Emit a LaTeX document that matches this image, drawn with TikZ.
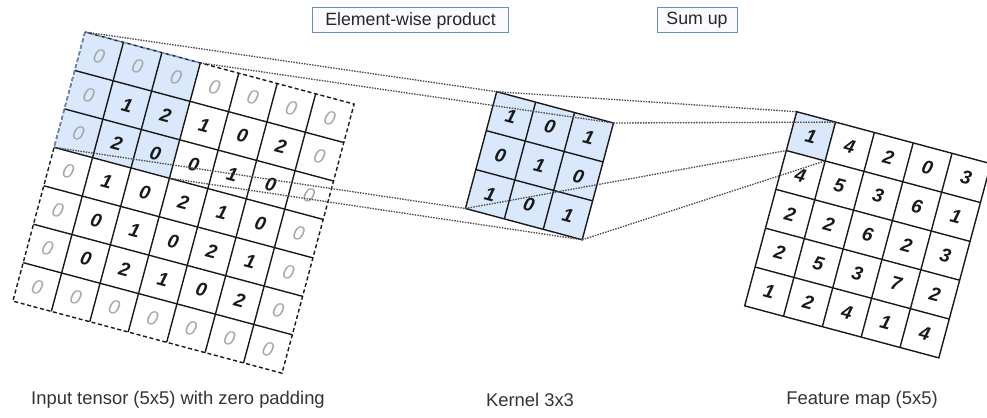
\documentclass[tikz,border=0pt]{standalone}
\usepackage{fontspec}
\setmainfont{Liberation Sans}
\definecolor{cellblue}{HTML}{DAE8FC}
\definecolor{edgeblue}{HTML}{6C8EBF}
\definecolor{padgray}{HTML}{A8A8A8}
\definecolor{labelgray}{HTML}{333333}

\begin{document}
\begin{tikzpicture}[x=0.75pt,y=0.75pt,
  gridline/.style={line width=1.05pt, black!90},
  padborder/.style={line width=1.05pt, black!90, dash pattern=on 3pt off 2pt},
  guide/.style={line width=1pt, black!70, dash pattern=on 1.1pt off 0.9pt},
  valnum/.style={font=\fontsize{14.3}{15}\selectfont\bfseries\itshape, text=black!90, transform shape, inner sep=0pt},
  padnum/.style={font=\fontsize{15}{16}\selectfont\itshape, text=padgray, transform shape, inner sep=0pt},
  tagbox/.style={draw=edgeblue, fill=blue!2, line width=0.75pt, font=\fontsize{13.3}{14}\selectfont, text=black!85, minimum height=18.75pt, inner sep=0pt},
  caption/.style={font=\fontsize{13.8}{15}\selectfont, text=labelgray, inner sep=0pt}
]
\path[use as bounding box, clip] (0,0) rectangle (987,-417);

% ---------- input tensor with zero padding (7x7) ----------
\begin{scope}[shift={(85,-32)}, rotate=-15]
  \def\s{39.8}
  \fill[cellblue] (0,0) rectangle (3*\s,-3*\s);
  \foreach \i in {1,...,6} {
    \draw[gridline] (\i*\s,0) -- (\i*\s,-7*\s);
    \draw[gridline] (0,-\i*\s) -- (7*\s,-\i*\s);
  }
  \draw[padborder] (0,0) rectangle (7*\s,-7*\s);
  \draw[edgeblue, line width=1.05pt, dash pattern=on 3pt off 2pt] (0,0) -- (3*\s,0);
  \draw[edgeblue, line width=1.05pt, dash pattern=on 3pt off 2pt] (0,0) -- (0,-3*\s);
  % zero padding ring
  \foreach \k in {0,...,6} {
    \node[padnum] (in-0-\k) at ({(\k+0.5)*\s},{-0.5*\s}) {0};
    \node[padnum] (in-6-\k) at ({(\k+0.5)*\s},{-6.5*\s}) {0};
  }
  \foreach \k in {1,...,5} {
    \node[padnum] (in-\k-0) at ({0.5*\s},{-(\k+0.5)*\s}) {0};
    \node[padnum] (in-\k-6) at ({6.5*\s},{-(\k+0.5)*\s}) {0};
  }
  % 5x5 input values
  \foreach \row [count=\r] in {{1,2,1,0,2},{2,0,0,1,0},{1,0,2,1,0},{0,1,0,2,1},{0,2,1,0,2}} {
    \foreach \v [count=\c] in \row {
      \node[valnum] (in-\r-\c) at ({(\c+0.5)*\s},{-(\r+0.5)*\s}) {\v};
    }
  }
  \coordinate (inTL) at (0,0);
  \coordinate (inTR) at (3*\s,0);
  \coordinate (inBL) at (0,-3*\s);
  \coordinate (inBR) at (3*\s,-3*\s);
\end{scope}

% ---------- kernel 3x3 ----------
\begin{scope}[shift={(496.7,-91.7)}, rotate=-15]
  \def\s{40.3}
  \fill[cellblue] (0,0) rectangle (3*\s,-3*\s);
  \foreach \i in {1,2} {
    \draw[gridline] (\i*\s,0) -- (\i*\s,-3*\s);
    \draw[gridline] (0,-\i*\s) -- (3*\s,-\i*\s);
  }
  \draw[gridline] (0,0) rectangle (3*\s,-3*\s);
  \foreach \row [count=\r from 0] in {{1,0,1},{0,1,0},{1,0,1}} {
    \foreach \v [count=\c from 0] in \row {
      \node[valnum] (k-\r-\c) at ({(\c+0.5)*\s},{-(\r+0.5)*\s}) {\v};
    }
  }
  \coordinate (kTL) at (0,0);
  \coordinate (kTR) at (3*\s,0);
  \coordinate (kBL) at (0,-3*\s);
  \coordinate (kBR) at (3*\s,-3*\s);
\end{scope}

% ---------- feature map 5x5 ----------
\begin{scope}[shift={(796.7,-111.7)}, rotate=-15]
  \def\s{40.2}
  \fill[cellblue] (0,0) rectangle (\s,-\s);
  \foreach \i in {1,...,4} {
    \draw[gridline] (\i*\s,0) -- (\i*\s,-5*\s);
    \draw[gridline] (0,-\i*\s) -- (5*\s,-\i*\s);
  }
  \draw[gridline] (0,0) rectangle (5*\s,-5*\s);
  \foreach \row [count=\r from 0] in {{1,4,2,0,3},{4,5,3,6,1},{2,2,6,2,3},{2,5,3,7,2},{1,2,4,1,4}} {
    \foreach \v [count=\c from 0] in \row {
      \node[valnum] (f-\r-\c) at ({(\c+0.5)*\s},{-(\r+0.5)*\s}) {\v};
    }
  }
  \coordinate (fTL) at (0,0);
  \coordinate (fTR) at (\s,0);
  \coordinate (fBL) at (0,-\s);
  \coordinate (fBR) at (\s,-\s);
\end{scope}

% ---------- projection guides ----------
\draw[guide] (inTL) -- (kTL);
\draw[guide] (inTR) -- (kTR);
\draw[guide] (inBL) -- (kBL);
\draw[guide] (inBR) -- (kBR);
\draw[guide] (kTL) -- (fTL);
\draw[guide] (kTR) -- (fTR);
\draw[guide] (kBL) -- (fBL);
\draw[guide] (kBR) -- (fBR);

% ---------- step tags ----------
\node[tagbox, minimum width=147pt] (tagProd) at (410.5,-20.5) {Element-wise product};
\node[tagbox, minimum width=60pt] (tagSum) at (697,-20.5) {Sum up};

% ---------- captions ----------
\node[caption] (capIn) at (178,-400) {Input tensor (5x5) with zero padding};
\node[caption] (capK) at (530,-400) {Kernel 3x3};
\node[caption] (capF) at (862,-400) {Feature map (5x5)};
\end{tikzpicture}
\end{document}
